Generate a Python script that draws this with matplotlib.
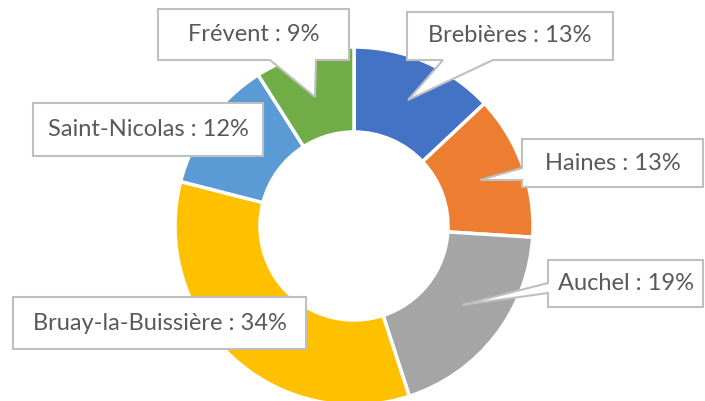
import matplotlib.pyplot as plt
from matplotlib.patches import Polygon

# data
villes = ["Brebières", "Haines", "Auchel", "Bruay-la-Buissière", "Saint-Nicolas", "Frévent"]
parts = [13, 13, 19, 34, 12, 9]
couleurs = ["#4472C4", "#ED7D31", "#A5A5A5", "#FFC000", "#5B9BD5", "#70AD47"]

W, H = 705, 401

# callout boxes in pixel coords (top-left origin): x0, y0, x1, y1
boxes = [
    (407, 12, 613, 60),
    (522, 139, 703, 187),
    (548, 260, 703, 307),
    (13, 297, 306, 349),
    (33, 103, 263, 156),
    (158, 9, 349, 60),
]
# pointer: side, base start, base end, tip (x, y)
pointers = [
    ("bottom", 493, 443, (408, 100)),
    ("left", 168, 180, (480, 180)),
    ("left", 283, 293, (462, 305)),
    None,
    None,
    ("bottom", 316, 270, (315, 97)),
]


def callout_path(box, ptr):
    x0, y0, x1, y1 = box
    pts = [(x0, y0), (x1, y0), (x1, y1)]
    if ptr and ptr[0] == "bottom":
        pts += [(ptr[1], y1), ptr[3], (ptr[2], y1)]
    pts += [(x0, y1)]
    if ptr and ptr[0] == "left":
        pts += [(x0, ptr[2]), ptr[3], (x0, ptr[1])]
    return [(x, H - y) for x, y in pts]


fig = plt.figure(figsize=(W / 100, H / 100), dpi=100)
ax = fig.add_axes([0, 0, 1, 1])

cx, cy, R = 354, H - 226, 179
ax.pie(parts, colors=couleurs, startangle=90, counterclock=False,
       center=(cx, cy), radius=R,
       wedgeprops=dict(width=85, edgecolor="white", linewidth=2.5))

for ville, p, box, ptr in zip(villes, parts, boxes, pointers):
    ax.add_patch(Polygon(callout_path(box, ptr), closed=True, facecolor="white",
                         edgecolor="#BFBFBF", linewidth=1.5, zorder=5))
    x0, y0, x1, y1 = box
    ax.text((x0 + x1) / 2, H - (y0 + y1) / 2, f"{ville} : {p}%", ha="center", va="center",
            fontsize=17, color="#595959", family="Lato", zorder=6)

ax.set_xlim(0, W)
ax.set_ylim(0, H)
ax.set_aspect("equal")
ax.axis("off")

fig.savefig("out.png", dpi=100)
